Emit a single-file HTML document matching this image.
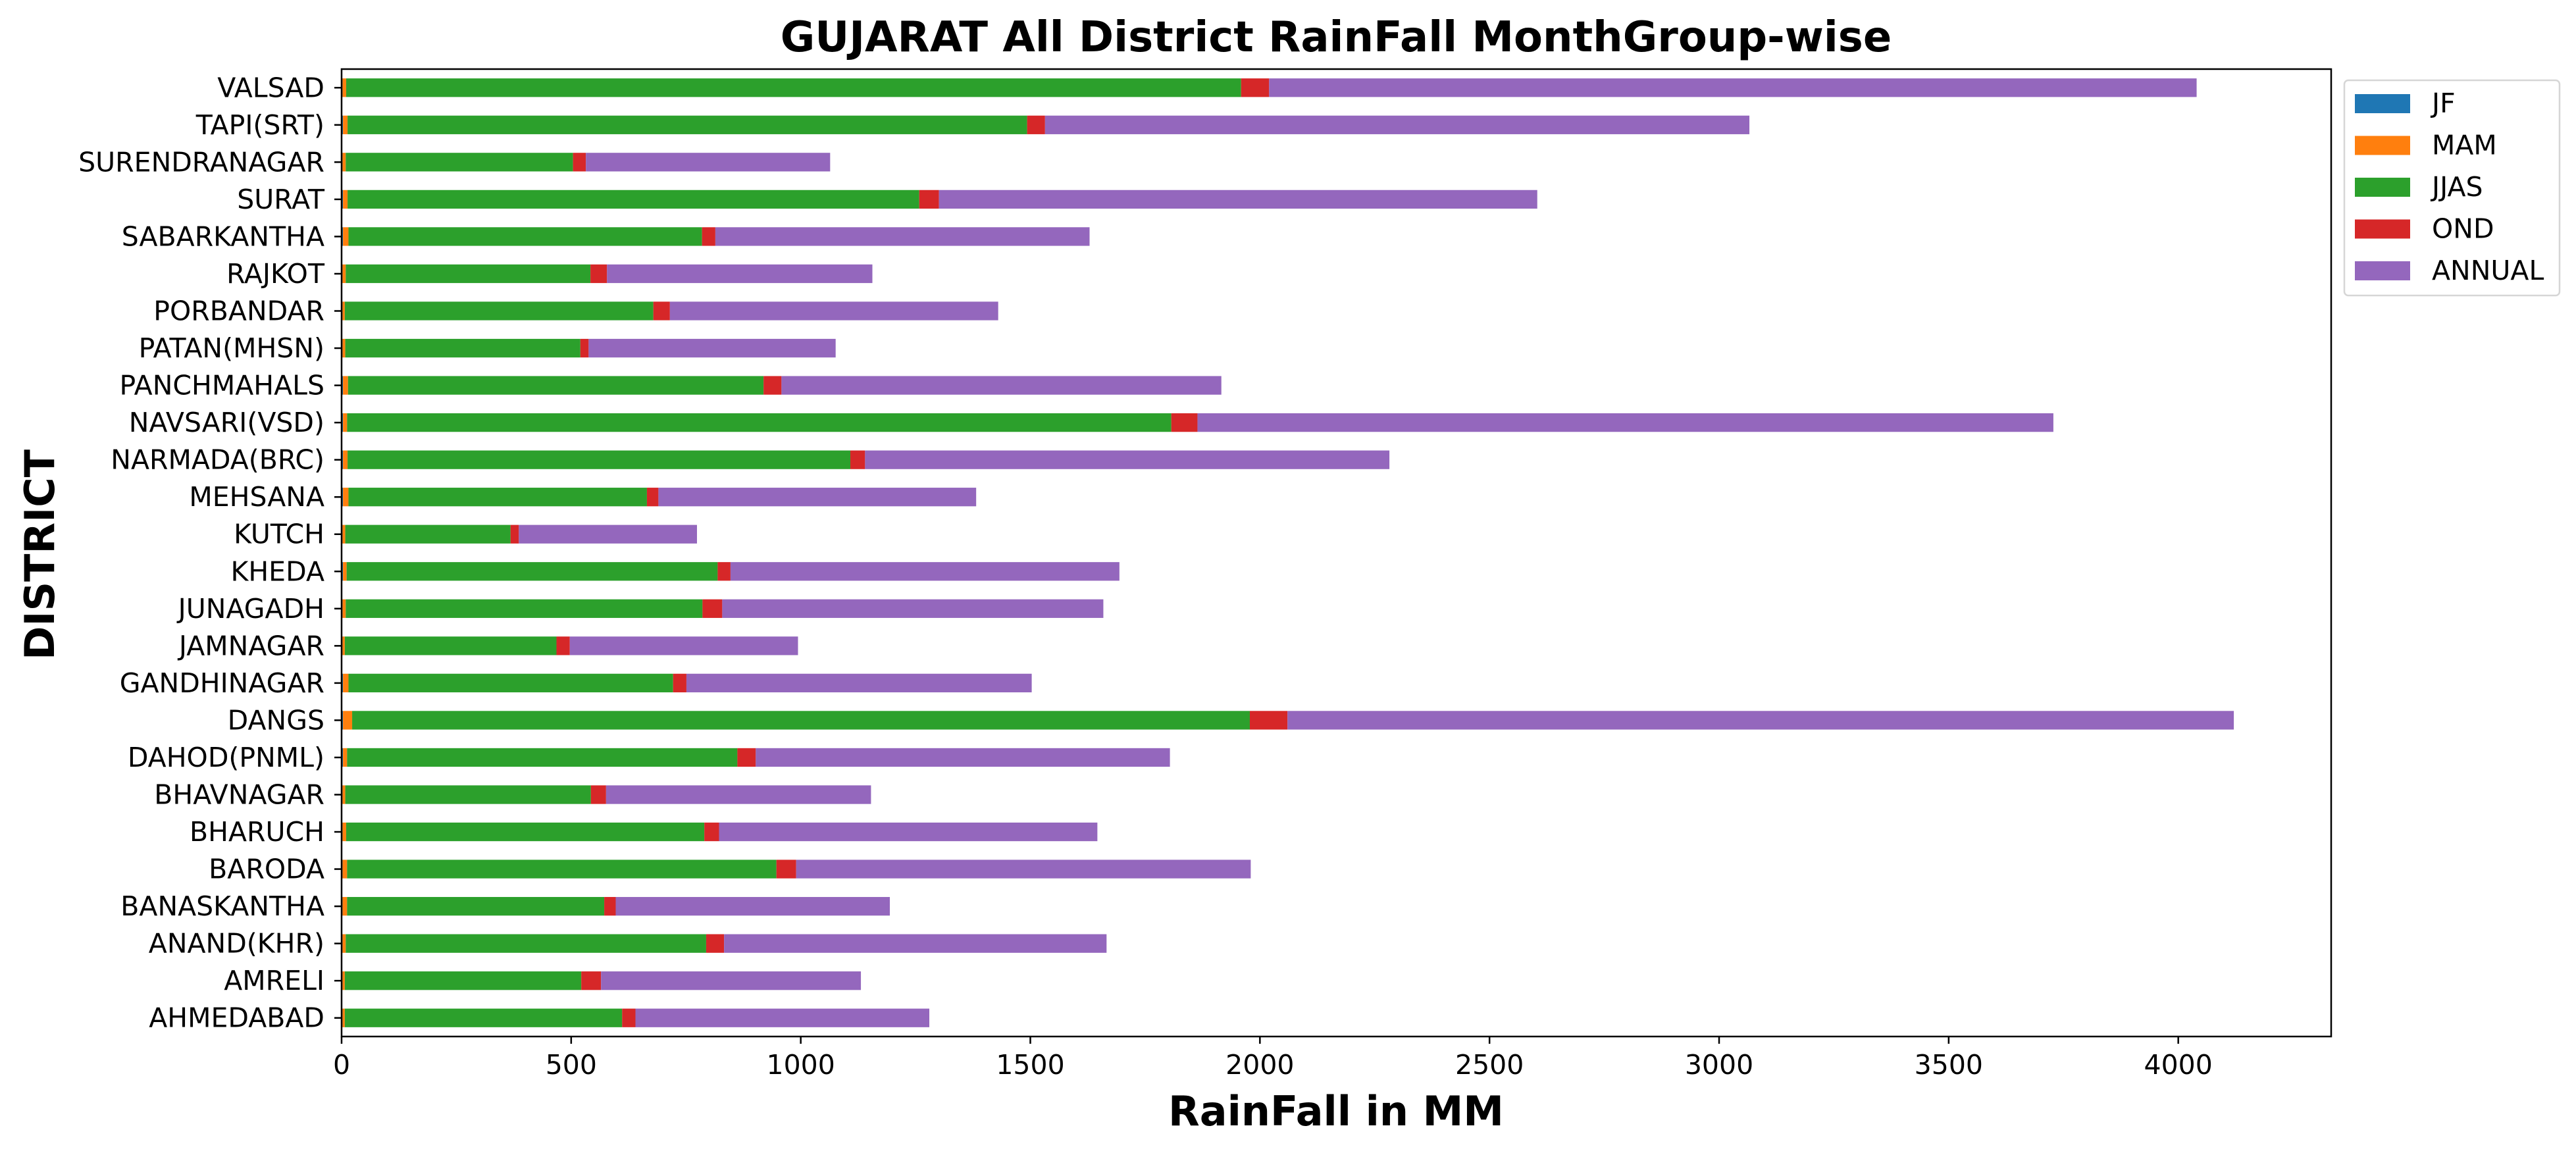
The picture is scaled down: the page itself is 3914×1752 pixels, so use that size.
<!DOCTYPE html>
<html><head><meta charset="utf-8"><style>
html,body{margin:0;padding:0;background:#fff;}
svg{display:block;font-family:"DejaVu Sans","Liberation Sans",sans-serif;}
</style></head><body>
<svg id="chart" width="3914" height="1752" viewBox="0 0 3914 1752" xmlns="http://www.w3.org/2000/svg">
<text x="2030" y="78" font-size="64" font-weight="bold" text-anchor="middle">GUJARAT All District RainFall MonthGroup-wise</text>
<text x="2030" y="1710" font-size="62" font-weight="bold" text-anchor="middle">RainFall in MM</text>
<text x="0" y="0" font-size="62" font-weight="bold" text-anchor="middle" transform="translate(82,843) rotate(-90)">DISTRICT</text>
<g id="bars"></g>
<g id="yticks"></g>
<g id="xticks"></g>
<rect x="519" y="105" width="3023" height="1470" fill="none" stroke="#000" stroke-width="2.5"/>
<g id="legend">
<rect x="3562" y="122" width="327" height="327" rx="6" fill="#fff" stroke="#d6d6d6" stroke-width="2.5"/>
</g>
</svg>
<script>
const categories = ["AHMEDABAD","AMRELI","ANAND(KHR)","BANASKANTHA","BARODA","BHARUCH","BHAVNAGAR","DAHOD(PNML)","DANGS","GANDHINAGAR","JAMNAGAR","JUNAGADH","KHEDA","KUTCH","MEHSANA","NARMADA(BRC)","NAVSARI(VSD)","PANCHMAHALS","PATAN(MHSN)","PORBANDAR","RAJKOT","SABARKANTHA","SURAT","SURENDRANAGAR","TAPI(SRT)","VALSAD"];
const seriesNames = ["JF","MAM","JJAS","OND","ANNUAL"];
const seriesColors = ["#1f77b4","#ff7f0e","#2ca02c","#d62728","#9467bd"];
const JF   = [2,2,2,2,2,2,2,3,3,3,2,2,3,2,3,3,3,3,2,2,2,3,3,2,3,2];
const MAM  = [5,5,7,10,10,8,6,9,20,12,5,7,8,6,12,10,9,11,6,5,7,12,10,7,10,8];
const JJAS = [604,515,785,560,935,780,535,850,1955,707,461,777,808,360,650,1095,1795,905,512,672,533,770,1245,495,1480,1949];
const OND  = [29,43,39,25,43,32,33,40,82,29,29,43,28,18,25,32,57,39,18,36,36,29,43,28,39,61];
const ANNUAL = [640,566,833,597,990,824,577,902,2061,752,497,830,847,388,692,1142,1864,958,538,715,578,815,1303,532,1534,2020];
const xTicks = [0,500,1000,1500,2000,2500,3000,3500,4000];

const NS="http://www.w3.org/2000/svg";
const L=519,R=3542,T=105,B=1575,XMAX=4333;
const xs=v=>L+v/XMAX*(R-L);
const ys=i=>B-(i+0.5)/categories.length*(B-T);
const barH=0.5*(B-T)/categories.length;
function mk(tag,attrs,parent){const e=document.createElementNS(NS,tag);for(const k in attrs)e.setAttribute(k,attrs[k]);parent.appendChild(e);return e;}
const series=[JF,MAM,JJAS,OND,ANNUAL];
const gb=document.getElementById('bars');
categories.forEach((c,i)=>{
  let acc=0;
  series.forEach((s,k)=>{
    const r=mk('rect',{x:xs(acc),y:ys(i)-barH/2,width:Math.max(0,xs(acc+s[i])-xs(acc)),height:barH,fill:seriesColors[k]},gb);
    
    
    acc+=s[i];
  });
});
const gy=document.getElementById('yticks');
categories.forEach((c,i)=>{
  mk('line',{x1:L-11,x2:L,y1:ys(i),y2:ys(i),stroke:'#000','stroke-width':2.5},gy);
  const t=mk('text',{x:L-26,y:ys(i)+14,'font-size':41,'text-anchor':'end'},gy);
  t.textContent=c;
  
  
});
const gx=document.getElementById('xticks');
xTicks.forEach(v=>{
  mk('line',{x1:xs(v),x2:xs(v),y1:B,y2:B+11,stroke:'#000','stroke-width':2.5},gx);
  const t=mk('text',{x:xs(v),y:B+57,'font-size':41,'text-anchor':'middle'},gx);
  t.textContent=v;
  
  
});
const gl=document.getElementById('legend');
seriesNames.forEach((n,k)=>{
  const y=157+k*63.5;
  const p=mk('rect',{x:3578,y:y-14,width:84,height:29,fill:seriesColors[k]},gl);
  
  
  const t=mk('text',{x:3695,y:y+14,'font-size':41},gl);
  t.textContent=n;
  
  
});
</script>
</body></html>
